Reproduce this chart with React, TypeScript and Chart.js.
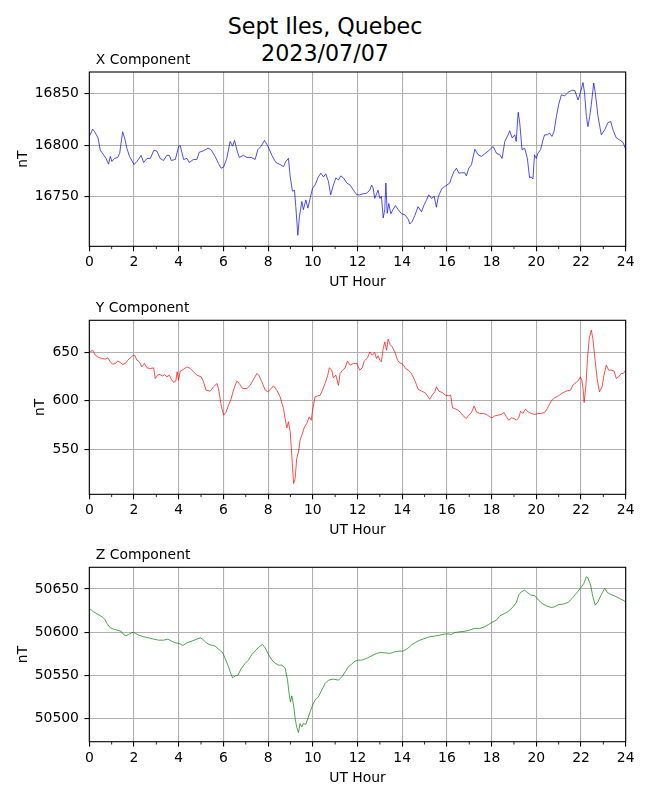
import React, { useEffect, useRef } from "react";
import { Chart, registerables } from "chart.js";

Chart.register(...registerables);

// ---------------- data ----------------
const xHours = [0.0,0.04,0.15,0.24,0.39,0.49,0.64,0.75,0.86,0.94,1.01,1.13,1.27,1.36,1.49,1.58,1.68,1.8,2.0,2.13,2.32,2.43,2.58,2.73,2.89,3.03,3.17,3.32,3.47,3.58,3.67,3.85,4.0,4.07,4.22,4.37,4.47,4.66,4.81,4.92,5.11,5.31,5.45,5.63,5.78,5.9,6.01,6.15,6.3,6.41,6.5,6.6,6.71,6.9,7.05,7.24,7.42,7.54,7.69,7.84,7.99,8.17,8.35,8.54,8.69,8.79,8.91,8.99,9.09,9.18,9.24,9.33,9.4,9.51,9.58,9.69,9.78,9.88,9.99,10.1,10.25,10.36,10.48,10.58,10.7,10.8,10.92,11.03,11.15,11.25,11.37,11.52,11.67,11.82,11.97,12.1,12.25,12.4,12.55,12.63,12.7,12.77,12.92,13.0,13.07,13.15,13.22,13.27,13.33,13.4,13.49,13.6,13.7,13.82,13.97,14.12,14.27,14.34,14.44,14.56,14.71,14.86,14.98,15.08,15.19,15.31,15.43,15.53,15.61,15.68,15.79,15.9,16.0,16.13,16.2,16.31,16.43,16.53,16.65,16.8,16.87,16.98,17.1,17.25,17.4,17.55,17.69,17.84,17.99,18.07,18.22,18.37,18.47,18.59,18.74,18.81,18.92,19.04,19.1,19.19,19.26,19.36,19.48,19.6,19.7,19.77,19.85,19.92,20.0,20.07,20.19,20.3,20.37,20.49,20.59,20.7,20.79,20.9,21.0,21.12,21.27,21.42,21.57,21.72,21.87,21.99,22.09,22.16,22.24,22.31,22.39,22.46,22.57,22.64,22.76,22.91,23.06,23.21,23.33,23.43,23.58,23.73,23.88,24.0];
const xValues = [16809,16810,16815.6,16813,16807,16795,16790.5,16787,16781.4,16789,16784,16787,16788,16792,16813,16807,16797,16789,16781,16784,16790,16783,16787,16787,16795,16794,16787,16785,16790,16790,16785,16786,16799,16799.5,16786,16787,16783,16786,16786,16793,16794.5,16797,16795.5,16789,16782,16777.5,16778.5,16787,16803.6,16799,16804.6,16795.5,16788,16790,16788,16788,16786,16795.5,16799,16804.6,16799,16790,16783,16781,16779,16784,16787,16769,16755,16756,16740,16712,16730,16745,16737,16746.6,16738.5,16748,16758,16761,16769,16772.6,16769,16772,16764.5,16751.5,16761,16768,16766,16770,16768,16763,16761,16756,16751.5,16751.5,16752.5,16753,16756,16761,16758,16748,16756,16748,16750,16729,16737,16763,16733.5,16743,16733,16737.5,16741,16737,16733,16732,16727.7,16723,16725.4,16731,16740,16735,16741.7,16746,16751.5,16748,16750,16739.4,16749,16753,16758,16759.6,16761,16763,16768,16774,16777.5,16772.6,16773,16773,16770,16777.5,16781,16796,16790.5,16789,16791.5,16794,16797,16798.7,16792,16790.5,16787,16803.6,16810,16814,16807,16810,16803.6,16832,16821.5,16795.5,16797,16787,16768,16769,16767,16790.5,16787,16792,16795.5,16805,16810,16810,16811.7,16808.5,16813,16828,16839.4,16849,16848,16851.5,16853.4,16853.4,16844,16852.4,16861,16851,16828,16818,16828,16839.4,16860.6,16851,16828,16810,16815,16822,16823,16815,16807,16805,16802.6,16796];

const yHours = [0.0,0.04,0.15,0.27,0.42,0.57,0.72,0.83,0.94,1.04,1.16,1.28,1.39,1.49,1.61,1.73,1.83,1.94,2.03,2.13,2.24,2.35,2.47,2.58,2.73,2.88,2.95,3.07,3.17,3.28,3.37,3.47,3.58,3.67,3.77,3.87,3.93,3.99,4.07,4.22,4.37,4.52,4.66,4.81,5.01,5.11,5.22,5.41,5.56,5.71,5.78,5.9,6.01,6.11,6.23,6.35,6.45,6.6,6.71,6.86,7.05,7.2,7.35,7.5,7.6,7.72,7.87,7.99,8.14,8.24,8.39,8.54,8.69,8.76,8.84,8.91,8.99,9.06,9.14,9.21,9.28,9.36,9.43,9.51,9.63,9.73,9.84,9.93,9.99,10.1,10.22,10.33,10.43,10.55,10.67,10.74,10.85,10.92,11.03,11.15,11.22,11.33,11.45,11.55,11.67,11.82,11.97,12.1,12.21,12.3,12.45,12.55,12.66,12.77,12.85,12.92,13.0,13.07,13.15,13.22,13.3,13.37,13.46,13.55,13.67,13.79,13.89,14.04,14.15,14.27,14.38,14.49,14.59,14.71,14.86,15.01,15.13,15.23,15.34,15.46,15.53,15.64,15.79,15.94,16.06,16.17,16.25,16.35,16.5,16.65,16.77,16.87,16.98,17.1,17.22,17.32,17.47,17.62,17.77,17.92,18.02,18.14,18.29,18.44,18.56,18.66,18.77,18.89,19.01,19.11,19.21,19.3,19.4,19.51,19.63,19.78,19.93,20.07,20.22,20.37,20.49,20.66,20.81,20.99,21.14,21.33,21.53,21.63,21.79,21.89,21.97,22.04,22.1,22.14,22.22,22.29,22.37,22.46,22.53,22.64,22.73,22.83,22.94,23.03,23.13,23.24,23.36,23.48,23.58,23.68,23.8,23.89,24.0];
const yValues = [650,650.5,652.2,647,644.7,643.6,643,644.3,640.2,637.8,638.5,641,639.5,637.5,638.5,642,644.3,646.4,647,642,640.2,635,638.5,634,633.3,634,623,627,627,625.8,627,624.7,626.5,622.3,619,620.3,630,621.3,630.6,632.6,635,633.3,630,626.5,624.7,619.6,611,610,614.4,617.9,612.7,595.5,585.2,588,595.5,602.4,611,620.3,617.9,612.7,612.7,616,622.3,628.2,625.8,619.6,611,609.3,612.7,615.5,611,604,592,581.8,572.2,578.4,568,544,514.8,520,540.6,547.4,559.5,564.6,573.2,576.6,583.5,580,590.4,604,605.2,605.8,611,617.9,626.5,634,631.6,623.7,626.5,616,628.2,631.6,634,641,636.8,638.5,638.5,631.6,634,641,644.3,650.5,647,649.8,643.6,646.4,642,640.2,654,660.8,652.2,663.6,658,655.7,650.5,642,639.2,637.5,633.3,631.6,629.2,624.7,619.6,612,610,608.6,605.2,601.7,605.8,609.3,614.4,610,608.6,605.8,605.2,605.8,592.8,592,590.4,587,583.5,581.8,585.2,588,594.8,588.7,587,587,586,583.5,582.5,584.5,585.2,586,588,583.5,580,582.5,581.8,580,582.5,589.3,587,591.4,588.7,587,586,587,587,588,592,599.7,603,605.2,607.6,610,611,616,619,621.3,624.7,621.3,611,598.3,616,643.6,664.3,672.8,664.3,640.2,621.3,609.3,614.4,626.5,636.8,631.6,631.6,630.6,623,624.7,628.2,628.2,631.6];

const zHours = [0.0,0.04,0.19,0.39,0.57,0.69,0.79,0.94,1.09,1.24,1.43,1.53,1.64,1.76,1.91,2.03,2.21,2.43,2.65,2.88,3.1,3.32,3.52,3.67,3.85,4.02,4.19,4.37,4.59,4.81,4.96,5.07,5.26,5.45,5.63,5.78,5.96,6.08,6.23,6.33,6.41,6.53,6.65,6.8,6.97,7.12,7.27,7.45,7.6,7.75,7.87,7.99,8.14,8.29,8.46,8.61,8.76,8.87,8.94,9.0,9.06,9.14,9.21,9.28,9.36,9.43,9.51,9.58,9.69,9.78,9.88,9.99,10.1,10.25,10.4,10.55,10.7,10.92,11.15,11.3,11.45,11.59,11.74,11.89,12.04,12.18,12.4,12.63,12.85,13.04,13.22,13.45,13.67,13.89,14.04,14.24,14.41,14.59,14.79,15.01,15.23,15.46,15.68,15.9,16.05,16.2,16.35,16.58,16.8,17.02,17.22,17.47,17.69,17.87,18.07,18.22,18.37,18.59,18.77,18.96,19.11,19.21,19.33,19.48,19.6,19.75,19.93,20.1,20.26,20.45,20.67,20.82,21.0,21.2,21.42,21.6,21.79,21.99,22.13,22.24,22.31,22.43,22.53,22.64,22.76,22.91,23.06,23.18,23.33,23.48,23.66,23.88,24.0];
const zValues = [50627,50626.7,50623.6,50620.5,50617.8,50615,50610,50605,50603.5,50602.3,50601,50597.3,50595.7,50597.3,50599.6,50599.2,50596.5,50594.6,50593.4,50591.9,50590.7,50590.7,50591.9,50589.6,50587.6,50586.9,50584.5,50587.6,50589.6,50591.9,50593.4,50591.9,50586.9,50585,50583.8,50580.3,50576.4,50569.5,50559.8,50552,50547,50549.3,50550,50557.8,50563.6,50567.5,50574,50579,50583,50585.7,50581.8,50575.3,50568.7,50564.4,50561.7,50561.7,50558.6,50544.3,50528.8,50519.2,50526,50515.3,50499.8,50490,50483.6,50494,50490,50494,50493,50500,50507.6,50515.3,50521.1,50525,50532.7,50540.4,50544.3,50545.5,50544.3,50548.2,50554,50559.8,50562.9,50566.4,50567.5,50567.5,50569.5,50572.5,50575.3,50576.4,50576,50575.3,50577.2,50578,50578,50581,50585,50588,50590.7,50592.7,50594.6,50595.4,50596.5,50597.7,50598,50597.3,50599.6,50600.4,50601,50602.3,50604.3,50604.3,50606.2,50609,50612,50614,50619,50621.7,50624.4,50629.4,50634.4,50643,50646.8,50648.7,50646,50643,50642.2,50637,50633.3,50630.5,50628.6,50629.4,50632,50632.5,50634.4,50639,50645,50651.4,50656.5,50664.2,50663,50654.5,50641,50631.3,50635.2,50643.7,50650.7,50646,50643.7,50642.2,50640,50637,50635];

const titleLines = ["Sept Iles, Quebec", "2023/07/07"];
const panelTitles = ["X Component", "Y Component", "Z Component"];
const xAxisTitle = "UT Hour";
const yAxisTitle = "nT";
const hourMin = 0;
const hourMax = 24;
const hourStep = 2;
const yStep = 50;

// ---------------- layout ----------------
const FONT = "'DejaVu Sans', Verdana, sans-serif";
const TICK_SIZE = 13.9;
const PLOT_LEFT = 89.3;
const PLOT_RIGHT = 625.7;
const CANVAS_W = 650;
const CANVAS_H = 255;

type PanelSpec = {
  title: string;
  hours: number[];
  values: number[];
  color: string;
  min: number;
  max: number;
  plotTop: number;
  plotBottom: number;
  yTitleX: number;
};

const panels: PanelSpec[] = [
  { title: panelTitles[0], hours: xHours, values: xValues, color: "#0000ff", min: 16701.3, max: 16871.3, plotTop: 72, plotBottom: 246.3, yTitleX: 23.7 },
  { title: panelTitles[1], hours: yHours, values: yValues, color: "#ff0000", min: 503.7, max: 683, plotTop: 320.3, plotBottom: 494.3, yTitleX: 40 },
  { title: panelTitles[2], hours: zHours, values: zValues, color: "#008000", min: 50472.9, max: 50675.2, plotTop: 567.3, plotBottom: 741.7, yTitleX: 23.7 },
];

const framePlugin = {
  id: "mplFrame",
  afterDraw(chart: any) {
    const { ctx, chartArea } = chart;
    const { left, right, top, bottom } = chartArea;
    const xs = chart.scales.x;
    ctx.save();
    // minor ticks
    ctx.strokeStyle = "#000";
    ctx.lineWidth = 0.85;
    for (let h = hourMin + 1; h < hourMax; h += hourStep) {
      const px = xs.getPixelForValue(h);
      ctx.beginPath();
      ctx.moveTo(px, bottom);
      ctx.lineTo(px, bottom + 2.8);
      ctx.stroke();
    }
    // spines
    ctx.lineWidth = 1.1;
    ctx.strokeRect(left, top, right - left, bottom - top);
    // panel title
    const title = chart.options.plugins.mplFrame?.title || "";
    ctx.fillStyle = "#000";
    ctx.font = `${TICK_SIZE}px ${FONT}`;
    ctx.textAlign = "left";
    ctx.textBaseline = "alphabetic";
    ctx.fillText(title, left + 6.5, top - 8);
    ctx.restore();
  },
};

function Panel({ spec }: { spec: PanelSpec }) {
  const ref = useRef<HTMLCanvasElement>(null);
  const canvasTop = Math.floor(spec.plotTop) - 32;
  const padTop = spec.plotTop - canvasTop;
  const plotH = spec.plotBottom - spec.plotTop;
  const xAxisH = CANVAS_H - padTop - plotH;

  useEffect(() => {
    if (!ref.current) return;
    const font = { family: FONT, size: TICK_SIZE };
    const chart = new Chart(ref.current, {
      type: "line",
      data: {
        datasets: [
          {
            data: spec.hours.map((h, i) => ({ x: h, y: spec.values[i] })),
            borderColor: spec.color,
            borderWidth: 0.7,
            pointRadius: 0,
            fill: false,
            tension: 0,
          },
        ],
      },
      options: {
        responsive: false,
        animation: false,
        events: [],
        layout: { padding: { top: padTop, right: CANVAS_W - PLOT_RIGHT, bottom: 0, left: 0 } },
        plugins: {
          legend: { display: false },
          tooltip: { enabled: false },
          title: { display: false },
          mplFrame: { title: spec.title },
        } as any,
        scales: {
          x: {
            type: "linear",
            min: hourMin,
            max: hourMax,
            ticks: {
              stepSize: hourStep,
              autoSkip: false,
              maxRotation: 0,
              color: "#000",
              font,
              padding: 3.3,
              callback: (v: any) => String(v),
            },
            grid: { color: "#b0b0b0", lineWidth: 1.1, tickColor: "#000", tickLength: 4.9, tickWidth: 1.1 },
            border: { display: false },
            title: {
              display: true,
              text: xAxisTitle,
              color: "#000",
              font,
              padding: { top: 0, bottom: xAxisH - 44.54 },
            },
            afterFit: (s: any) => {
              s.height = xAxisH;
            },
          },
          y: {
            type: "linear",
            min: spec.min,
            max: spec.max,
            ticks: {
              stepSize: yStep,
              includeBounds: false,
              color: "#000",
              font,
              padding: 5.5,
              callback: (v: any) => String(v),
            },
            afterBuildTicks: (s: any) => {
              const ticks: { value: number }[] = [];
              for (let v = Math.ceil(spec.min / yStep) * yStep; v <= spec.max; v += yStep) {
                ticks.push({ value: v });
              }
              s.ticks = ticks;
            },
            grid: { color: "#b0b0b0", lineWidth: 1.1, tickColor: "#000", tickLength: 4.9, tickWidth: 1.1 },
            border: { display: false },
            title: {
              display: true,
              text: yAxisTitle,
              color: "#000",
              font,
              padding: { top: spec.yTitleX - 8.34, bottom: 0 },
            },
            afterFit: (s: any) => {
              s.width = PLOT_LEFT;
            },
          },
        },
      } as any,
      plugins: [framePlugin],
    });
    return () => chart.destroy();
  }, [spec]);

  return (
    <canvas
      ref={ref}
      width={CANVAS_W}
      height={CANVAS_H}
      style={{ position: "absolute", left: 0, top: canvasTop, width: CANVAS_W, height: CANVAS_H }}
    />
  );
}

export default function App() {
  return (
    <div
      style={{
        position: "absolute",
        left: 0,
        top: 0,
        width: 650,
        height: 800,
        background: "#fff",
        overflow: "hidden",
      }}
    >
      <div
        style={{
          position: "absolute",
          left: 0,
          top: 13.25,
          width: 650,
          textAlign: "center",
          fontFamily: FONT,
          fontSize: 22.2,
          lineHeight: "26.7px",
          color: "#000",
        }}
      >
        {titleLines.map((t) => (
          <div key={t}>{t}</div>
        ))}
      </div>
      {panels.map((p) => (
        <Panel key={p.title} spec={p} />
      ))}
    </div>
  );
}
